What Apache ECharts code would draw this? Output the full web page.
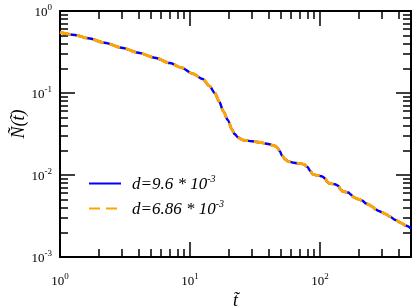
<!DOCTYPE html>
<html>
<head>
<meta charset="utf-8">
<script src="https://cdn.jsdelivr.net/npm/echarts@6/dist/echarts.min.js"></script>
<style>html,body{margin:0;padding:0;background:#fff}#c{width:415px;height:307px}</style>
</head>
<body>
<div id="c"></div>
<script>
// ---- data ----
const tValues = [1, 1.3, 1.65, 2.2, 2.97, 4, 5.35, 7, 8.5, 10.5, 12.5, 14.1, 15.5, 16.8, 18, 19.5, 21, 22, 23.5, 25.4, 30, 34, 40, 44.4, 47, 49, 51, 54, 57, 63, 70, 75, 80, 84, 88, 95, 104, 110, 113, 118, 130, 138, 143, 150, 165, 172, 180, 195, 210, 225, 240, 252, 268, 283, 300, 319, 345, 380, 420, 460, 500];
const nBlue = [0.55, 0.51, 0.465, 0.41, 0.357, 0.31, 0.27, 0.232, 0.205, 0.172, 0.148, 0.122, 0.1, 0.078, 0.06, 0.047, 0.036, 0.0316, 0.0285, 0.0267, 0.0258, 0.0251, 0.0239, 0.0228, 0.0215, 0.0195, 0.0172, 0.0155, 0.0146, 0.0141, 0.0138, 0.0135, 0.0125, 0.0112, 0.0102, 0.0099, 0.0096, 0.009, 0.0083, 0.0079, 0.0077, 0.0074, 0.0067, 0.0063, 0.0061, 0.0058, 0.0054, 0.0051, 0.0049, 0.0045, 0.0043, 0.0041, 0.0038, 0.00364, 0.0035, 0.00334, 0.0031, 0.00283, 0.0026, 0.0024, 0.00222];
const nOrange = [0.55, 0.51, 0.465, 0.41, 0.357, 0.31, 0.27, 0.232, 0.205, 0.172, 0.148, 0.122, 0.1, 0.078, 0.06, 0.047, 0.036, 0.0316, 0.0285, 0.0267, 0.0258, 0.0251, 0.0239, 0.0228, 0.0215, 0.0195, 0.0172, 0.0155, 0.0146, 0.0141, 0.0138, 0.0135, 0.0125, 0.0112, 0.0102, 0.0099, 0.0096, 0.009, 0.0083, 0.0079, 0.0077, 0.0074, 0.0067, 0.0063, 0.0061, 0.0058, 0.0054, 0.0051, 0.0049, 0.0045, 0.0043, 0.0041, 0.0038, 0.00364, 0.0035, 0.00334, 0.0031, 0.00283, 0.0026, 0.0024, 0.00222];
const seriesNames = ['blue', 'orange'];
const legendExp = ['9.6', '6.86'];
const xMin = 1, xMax = 500, yMin = 0.001, yMax = 1;
const xMinorTicks = [2,3,4,5,6,7,8,9,20,30,40,50,60,70,80,90,200,300,400];
const yMinorTicks = [0.002,0.003,0.004,0.005,0.006,0.007,0.008,0.009,0.02,0.03,0.04,0.05,0.06,0.07,0.08,0.09,0.2,0.3,0.4,0.5,0.6,0.7,0.8,0.9];

const FONT = '"Liberation Serif", "DejaVu Serif", serif';
const pairs = (ys) => tValues.map((t, i) => [t, ys[i]]);
const lg = (v) => Math.log10(v);

function powLabel(v) {
  const e = Math.round(Math.log10(v));
  if (Math.abs(v / Math.pow(10, e) - 1) > 1e-6) return '';
  return '{b|10}{s|' + e + '}';
}
const labelRich = {
  b: { fontFamily: FONT, fontSize: 13, color: '#000', verticalAlign: 'bottom' },
  s: { fontFamily: FONT, fontSize: 9, color: '#000', verticalAlign: 'bottom', padding: [0, 0, 7, 0] }
};
const lineStyleAxis = { color: '#000', width: 2 };

function majorAxis(pos, isX, showLabel) {
  return {
    type: 'log', logBase: 10, position: pos,
    min: isX ? xMin : yMin, max: isX ? xMax : yMax, interval: 1,
    axisLine: { show: true, onZero: false, lineStyle: lineStyleAxis },
    axisTick: { show: true, inside: true, length: 15, lineStyle: { color: '#000', width: 1.5 } },
    axisLabel: showLabel ? { show: true, formatter: powLabel, rich: labelRich, margin: isX ? 15 : 8, fontFamily: FONT } : { show: false },
    splitLine: { show: false }, minorTick: { show: false }
  };
}
function minorAxis(pos, isX) {
  return {
    type: 'value', position: pos,
    min: isX ? lg(xMin) : lg(yMin), max: isX ? lg(xMax) : lg(yMax),
    axisLine: { show: false, onZero: false },
    axisTick: { show: true, inside: true, length: 8, lineStyle: { color: '#000', width: 1.5 },
      customValues: (isX ? xMinorTicks : yMinorTicks).map(lg) },
    axisLabel: { show: false }, splitLine: { show: false }
  };
}

const chart = echarts.init(document.getElementById('c'), null, { renderer: 'canvas' });
const option = {
  animation: false,
  backgroundColor: '#fff',
  grid: { left: 60, right: 4, top: 11, bottom: 50, containLabel: false, outerBoundsMode: 'none' },
  xAxis: [
    Object.assign(majorAxis('bottom', true, true), {
      name: 't\u0303', nameLocation: 'middle', nameGap: 35, nameMoveOverlap: false,
      nameTextStyle: { fontFamily: FONT, fontSize: 18, fontStyle: 'italic', color: '#000' }
    }),
    majorAxis('top', true, false),
    minorAxis('bottom', true),
    minorAxis('top', true)
  ],
  yAxis: [
    Object.assign(majorAxis('left', false, true), {
      name: '\u00d1(t\u0303)', nameLocation: 'middle', nameGap: 32, nameRotate: 90, nameMoveOverlap: false,
      nameTextStyle: { fontFamily: FONT, fontSize: 18, fontStyle: 'italic', color: '#000', padding: [0, 0, 0, 20] }
    }),
    majorAxis('right', false, false),
    minorAxis('left', false),
    minorAxis('right', false)
  ],
  legend: {
    show: true, orient: 'vertical', left: 83, top: 169, itemWidth: 32, itemHeight: 14, itemGap: 6,
    data: seriesNames,
    itemStyle: { opacity: 0 },
    formatter: (name) => {
      const i = seriesNames.indexOf(name);
      return '{d|d=' + legendExp[i] + ' * 10}{s|-3}';
    },
    textStyle: {
      rich: {
        d: { fontFamily: FONT, fontSize: 17, fontStyle: 'italic', color: '#000', verticalAlign: 'bottom', padding: [0, 0, 0, 6] },
        s: { fontFamily: FONT, fontSize: 10, fontStyle: 'italic', color: '#000', verticalAlign: 'bottom', padding: [0, 0, 9, 0] }
      }
    }
  },
  series: [
    {
      name: seriesNames[0], type: 'line', data: pairs(nBlue), xAxisIndex: 0, yAxisIndex: 0,
      showSymbol: false, symbol: 'none', smooth: 0.3, smoothMonotone: 'x',
      lineStyle: { color: '#0000ff', width: 2.5 }, itemStyle: { color: '#0000ff' }, z: 2
    },
    {
      name: seriesNames[1], type: 'line', data: pairs(nOrange), xAxisIndex: 0, yAxisIndex: 0,
      showSymbol: false, symbol: 'none', smooth: 0.3, smoothMonotone: 'x',
      lineStyle: { color: '#ffa500', width: 3, type: [11, 6] }, itemStyle: { color: '#ffa500' }, z: 3
    }
  ]
};
chart.setOption(option);
</script>
</body>
</html>
